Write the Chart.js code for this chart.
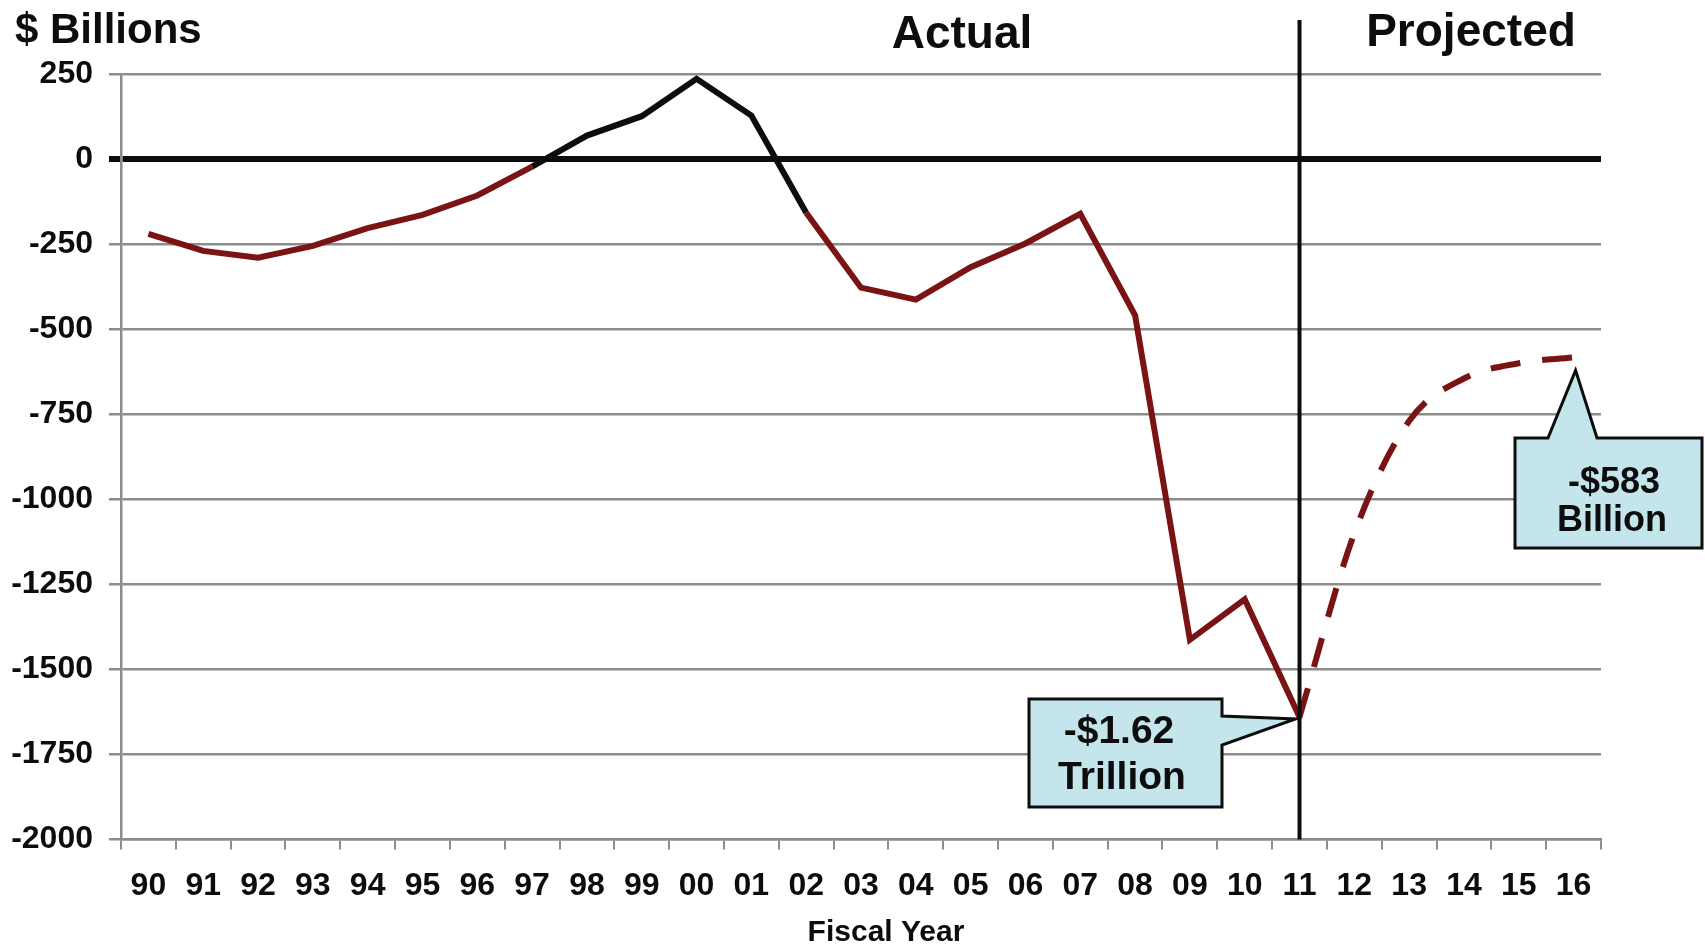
<!DOCTYPE html>
<html>
<head>
<meta charset="utf-8">
<script src="https://cdn.jsdelivr.net/npm/chart.js@4.4.1/dist/chart.umd.min.js"></script>
<style>
html,body{margin:0;padding:0;background:#fff;overflow:hidden}
#wrap{width:1705px;height:946px;position:relative}
</style>
</head>
<body>
<div id="wrap"><canvas id="c" width="1705" height="946"></canvas></div>
<script>
// ---- data ----
const fiscalYears = ['90','91','92','93','94','95','96','97','98','99','00','01','02','03','04','05','06','07','08','09','10','11','12','13','14','15','16'];
// actual surplus/deficit, FY90..FY11 ($ billions)
const actualValues = [-220,-270,-290,-255,-203,-164,-107,-22,69,126,236,128,-158,-378,-413,-318,-248,-161,-459,-1413,-1294,-1640];
// projected, FY11..FY16 ($ billions)
const projectedYears = ['11','12','13','14','15','16'];
const projectedValues = [-1640,-1100,-770,-645,-600,-583];
const yTickValues = [250,0,-250,-500,-750,-1000,-1250,-1500,-1750,-2000];
const headerTexts = ['$ Billions','Actual','Projected'];
const xAxisTitle = 'Fiscal Year';
const troughCallout = ['-$1.62','Trillion'];
const endCallout = ['-$583','Billion'];
const dividerYear = '11';
const calloutTroughYear = '11';
const calloutEndYear = '16';

// ---- build library tables ----
const actualSeries = fiscalYears.map((y,i)=> i < actualValues.length ? actualValues[i] : null);
const projectedSeries = fiscalYears.map(y => { const k = projectedYears.indexOf(y); return k >= 0 ? projectedValues[k] : null; });

const RED = '#7a1414';
const BLACK = '#0d0d0d';
const GRID = '#8c8c8c';
const FONT = '"Liberation Sans", Arial, Helvetica, sans-serif';

const overlay = {
  id: 'overlay',
  beforeDraw(chart){
    const ctx = chart.ctx;
    ctx.save(); ctx.fillStyle = '#fff'; ctx.fillRect(0,0,chart.width,chart.height); ctx.restore();
  },
  afterDatasetsDraw(chart){
    const ctx = chart.ctx, xs = chart.scales.x, area = chart.chartArea;
    const x = xs.getPixelForValue(fiscalYears.indexOf(dividerYear));
    ctx.save();
    ctx.strokeStyle = BLACK; ctx.lineWidth = 4;
    ctx.beginPath(); ctx.moveTo(x, 20); ctx.lineTo(x, area.bottom); ctx.stroke();
    ctx.restore();
  },
  afterDraw(chart){
    const ctx = chart.ctx, xs = chart.scales.x, ys = chart.scales.y;
    ctx.save();
    ctx.fillStyle = BLACK;
    ctx.textBaseline = 'alphabetic';
    // headers
    ctx.font = 'bold 42px ' + FONT; ctx.textAlign = 'left';
    ctx.fillText(headerTexts[0], 15, 43);
    ctx.font = 'bold 46px ' + FONT; ctx.textAlign = 'center';
    ctx.fillText(headerTexts[1], 962, 48);
    ctx.fillText(headerTexts[2], 1471, 46);
    // x axis title
    ctx.font = 'bold 30px ' + FONT;
    ctx.fillText(xAxisTitle, 886, 941);

    const FILL = '#c4e5ec';
    // callout 1 (trough)
    const ti = fiscalYears.indexOf(calloutTroughYear);
    const tipX = xs.getPixelForValue(ti) - 4;
    const tipY = ys.getPixelForValue(actualSeries[ti]) + 2;
    let L = 1029, T = 699, R = 1222, B = 807;
    ctx.beginPath();
    ctx.moveTo(L,T); ctx.lineTo(R,T); ctx.lineTo(R,716); ctx.lineTo(tipX,tipY); ctx.lineTo(R,745); ctx.lineTo(R,B); ctx.lineTo(L,B); ctx.closePath();
    ctx.fillStyle = FILL; ctx.fill();
    ctx.strokeStyle = BLACK; ctx.lineWidth = 3; ctx.lineJoin = 'miter'; ctx.stroke();
    ctx.fillStyle = BLACK; ctx.font = 'bold 39px ' + FONT; ctx.textAlign = 'center';
    ctx.fillText(troughCallout[0], 1119, 743);
    ctx.fillText(troughCallout[1], 1122, 789);

    // callout 2 (end)
    const ei = fiscalYears.indexOf(calloutEndYear);
    const tip2X = xs.getPixelForValue(ei) + 2;
    const tip2Y = ys.getPixelForValue(projectedSeries[ei]) + 13;
    L = 1515; T = 438; R = 1702; B = 548;
    ctx.beginPath();
    ctx.moveTo(L,T); ctx.lineTo(1548,T); ctx.lineTo(tip2X,tip2Y); ctx.lineTo(1597,T); ctx.lineTo(R,T); ctx.lineTo(R,B); ctx.lineTo(L,B); ctx.closePath();
    ctx.fillStyle = FILL; ctx.fill();
    ctx.strokeStyle = BLACK; ctx.lineWidth = 3; ctx.stroke();
    ctx.fillStyle = BLACK; ctx.font = 'bold 36px ' + FONT;
    ctx.fillText(endCallout[0], 1614, 493);
    ctx.fillText(endCallout[1], 1612, 531);
    ctx.restore();
  }
};

new Chart(document.getElementById('c'), {
  type: 'line',
  data: {
    labels: fiscalYears,
    datasets: [
      {
        label: 'Actual',
        data: actualSeries,
        borderColor: RED,
        borderWidth: 6,
        pointRadius: 0,
        tension: 0,
        spanGaps: false,
        segment: {
          borderColor: c => (c.p0.parsed.y >= 0 || c.p1.parsed.y >= 0) ? BLACK : RED
        }
      },
      {
        label: 'Projected',
        data: projectedSeries,
        borderColor: RED,
        borderWidth: 6,
        borderDash: [30, 22],
        pointRadius: 0,
        cubicInterpolationMode: 'monotone',
        spanGaps: false
      }
    ]
  },
  options: {
    responsive: false,
    animation: false,
    devicePixelRatio: 1,
    layout: { padding: { top: 74, right: 104, bottom: 0, left: 0 } },
    plugins: { legend: { display: false }, tooltip: { enabled: false }, title: { display: false } },
    scales: {
      x: {
        type: 'category',
        offset: true,
        grid: { offset: true, drawOnChartArea: false, drawTicks: true, tickLength: 10, color: GRID, lineWidth: 2 },
        border: { display: true, color: GRID, width: 2.5 },
        ticks: { color: BLACK, font: { family: FONT, size: 32, weight: 'bold' }, padding: 17, maxRotation: 0, autoSkip: false },
        title: { display: false },
        afterFit: s => { s.height = 106.5; }
      },
      y: {
        min: -2000, max: 250,
        afterBuildTicks: s => { s.ticks = yTickValues.map(v => ({ value: v })); },
        ticks: { color: BLACK, font: { family: FONT, size: 32, weight: 'bold' }, padding: 16, callback: v => String(v) },
        grid: {
          color: c => (c.tick && c.tick.value === 0) ? BLACK : GRID,
          lineWidth: c => (c.tick && c.tick.value === 0) ? 6 : 2.5,
          tickLength: 12,
          drawTicks: true
        },
        border: { display: true, color: GRID, width: 2.5 },
        afterFit: s => { s.width = 121; }
      }
    }
  },
  plugins: [overlay]
});
</script>
</body>
</html>
